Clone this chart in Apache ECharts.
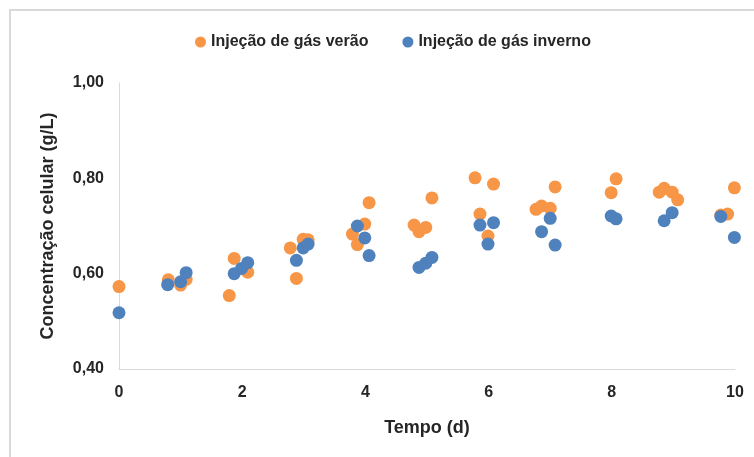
<!DOCTYPE html>
<html>
<head>
<meta charset="utf-8">
<script src="https://cdn.jsdelivr.net/npm/echarts@6/dist/echarts.min.js"></script>
<style>
  html, body { margin: 0; padding: 0; background: #fff; }
  #chart { width: 754px; height: 457px; }
</style>
</head>
<body>
<div id="chart"></div>
<script>
// tempo (d) e concentração (g/L)
var veraoX = [0, 0.80, 1.00, 1.09, 1.79, 1.87, 2.09, 2.78, 2.88, 2.99, 3.07,
              3.79, 3.87, 3.99, 4.06, 4.79, 4.87, 4.98, 5.08, 5.78, 5.86, 5.99, 6.08,
              6.77, 6.86, 7.00, 7.08, 7.99, 8.07, 8.77, 8.85, 8.98, 9.07, 9.77, 9.88, 9.99];
var veraoY = [0.573, 0.587, 0.576, 0.588, 0.554, 0.632, 0.603, 0.654, 0.590, 0.672, 0.671,
              0.683, 0.661, 0.704, 0.749, 0.702, 0.688, 0.697, 0.759, 0.801, 0.725, 0.679, 0.788,
              0.735, 0.742, 0.737, 0.782, 0.770, 0.799, 0.771, 0.779, 0.771, 0.755, 0.723, 0.725, 0.780];
var invernoX = [0, 0.79, 1.00, 1.09, 1.87, 1.99, 2.09, 2.88, 2.99, 3.07,
                3.87, 3.99, 4.06, 4.87, 4.98, 5.08, 5.86, 5.99, 6.08,
                6.86, 7.00, 7.08, 7.99, 8.07, 8.85, 8.98, 9.77, 9.99];
var invernoY = [0.518, 0.577, 0.583, 0.602, 0.600, 0.611, 0.623, 0.628, 0.654, 0.662,
                0.700, 0.675, 0.638, 0.613, 0.622, 0.634, 0.702, 0.662, 0.707,
                0.688, 0.716, 0.660, 0.721, 0.715, 0.711, 0.728, 0.720, 0.676];
var nomes = ['Injeção de gás verão', 'Injeção de gás inverno'];

var labelColor = '#262626';
var axisColor = '#d9d9d9';
var fonte = '"Liberation Sans Narrow", "Liberation Sans", sans-serif';

function pares(xs, ys) {
    return xs.map(function (x, i) { return [x, ys[i]]; });
}

var myChart = echarts.init(document.getElementById('chart'));
myChart.setOption({
    animation: false,
    textStyle: { fontFamily: fonte },
    graphic: [{
        type: 'rect',
        shape: { x: 10, y: 10, width: 800, height: 500 },
        style: { fill: 'none', stroke: axisColor, lineWidth: 2 },
        silent: true
    }],
    grid: { left: 119, right: 19, top: 83, bottom: 88 },
    legend: {
        data: nomes,
        left: 190,
        top: 29,
        itemGap: 34,
        itemWidth: 11,
        itemHeight: 11,
        icon: 'circle',
        textStyle: { color: labelColor, fontSize: 16, fontWeight: 'bold', fontFamily: fonte }
    },
    xAxis: {
        type: 'value',
        min: 0, max: 10, interval: 2,
        name: 'Tempo (d)',
        nameLocation: 'middle',
        nameGap: 50,
        nameTextStyle: { color: labelColor, fontSize: 18, fontWeight: 'bold', fontFamily: fonte },
        axisLine: { lineStyle: { color: axisColor, width: 1 } },
        axisTick: { show: false },
        splitLine: { show: false },
        axisLabel: { color: labelColor, fontSize: 16, fontWeight: 'bold', margin: 16, fontFamily: fonte }
    },
    yAxis: {
        type: 'value',
        min: 0.4, max: 1.0, interval: 0.2,
        name: 'Concentração celular (g/L)',
        nameLocation: 'middle',
        nameGap: 62,
        nameTextStyle: { color: labelColor, fontSize: 18, fontWeight: 'bold', fontFamily: fonte },
        axisLine: { show: true, lineStyle: { color: axisColor, width: 1 } },
        axisTick: { show: false },
        splitLine: { show: false },
        axisLabel: {
            color: labelColor, fontSize: 16, fontWeight: 'bold', margin: 15, fontFamily: fonte,
            formatter: function (v) { return v.toFixed(2).replace('.', ','); }
        }
    },
    series: [{
        name: nomes[0],
        type: 'scatter',
        symbolSize: 13,
        itemStyle: { color: '#f79646', opacity: 1 },
        data: pares(veraoX, veraoY)
    }, {
        name: nomes[1],
        type: 'scatter',
        symbolSize: 13,
        itemStyle: { color: '#4f81bd', opacity: 1 },
        data: pares(invernoX, invernoY)
    }]
});
</script>
</body>
</html>
